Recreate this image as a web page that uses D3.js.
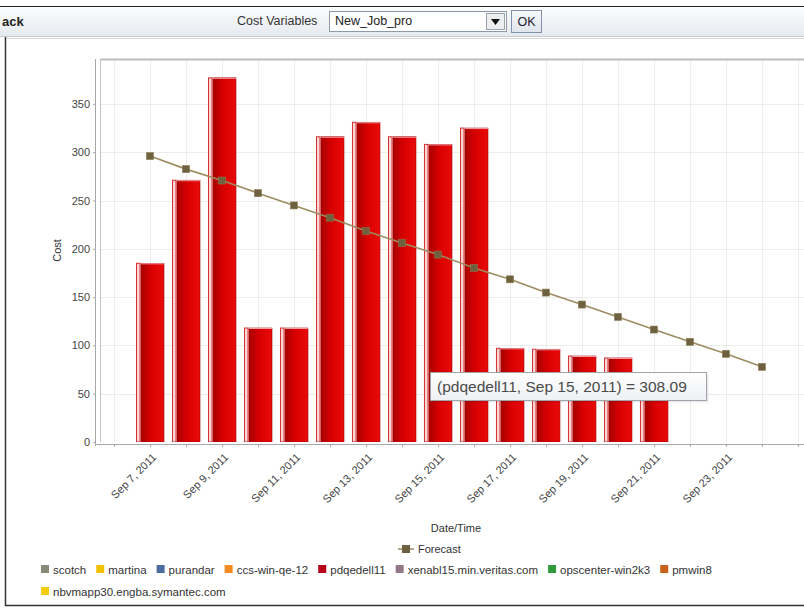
<!DOCTYPE html>
<html>
<head>
<meta charset="utf-8">
<script src="https://cdn.jsdelivr.net/npm/d3@7"></script>
<style>
  html, body { margin: 0; padding: 0; background: #ffffff; }
  svg { display: block; }
  text { font-family: "Liberation Sans", Arial, sans-serif; }
</style>
</head>
<body>
<svg id="chart" width="804" height="608"></svg>
<script>
// ---------- data ----------
const barDates = ["2011-09-07","2011-09-08","2011-09-09","2011-09-10","2011-09-11","2011-09-12","2011-09-13","2011-09-14","2011-09-15","2011-09-16","2011-09-17","2011-09-18","2011-09-19","2011-09-20","2011-09-21"];
const barCosts = [185, 271, 377, 118, 118, 316, 331, 316, 308.09, 325, 97, 96, 89, 87, 60];
const forecastDates = ["2011-09-07","2011-09-08","2011-09-09","2011-09-10","2011-09-11","2011-09-12","2011-09-13","2011-09-14","2011-09-15","2011-09-16","2011-09-17","2011-09-18","2011-09-19","2011-09-20","2011-09-21","2011-09-22","2011-09-23","2011-09-24"];
const forecastValues = [296, 282.5, 270.7, 257.6, 244.9, 232.2, 218.4, 206, 194, 180.2, 168.4, 154.7, 142.3, 129.5, 116.4, 103.7, 91.3, 77.8];
const yTicks = [0, 50, 100, 150, 200, 250, 300, 350];
const xLabelDates = ["2011-09-07","2011-09-09","2011-09-11","2011-09-13","2011-09-15","2011-09-17","2011-09-19","2011-09-21","2011-09-23"];
const xTickLabels = ["Sep 7, 2011","Sep 9, 2011","Sep 11, 2011","Sep 13, 2011","Sep 15, 2011","Sep 17, 2011","Sep 19, 2011","Sep 21, 2011","Sep 23, 2011"];
const legendNames = ["scotch","martina","purandar","ccs-win-qe-12","pdqedell11","xenabl15.min.veritas.com","opscenter-win2k3","pmwin8","nbvmapp30.engba.symantec.com"];
const legendColors = ["#8a8a78","#f2c200","#4b6c9e","#f38a22","#b80018","#94788a","#2e9a3e","#c8621a","#f6cc10"];
const tooltipText = "(pdqedell11, Sep 15, 2011) = 308.09";

// ---------- setup ----------
const parse = d3.timeParse("%Y-%m-%d");
const DAY = 864e5;
const svg = d3.select("#chart");
const defs = svg.append("defs");

// header bar
const hg = defs.append("linearGradient").attr("id","hdr").attr("x1",0).attr("y1",0).attr("x2",0).attr("y2",1);
hg.append("stop").attr("offset","0%").attr("stop-color","#fbfcfd");
hg.append("stop").attr("offset","100%").attr("stop-color","#e6eaef");
svg.append("rect").attr("x",0).attr("y",0).attr("width",804).attr("height",6).attr("fill","#ffffff");
svg.append("rect").attr("x",0).attr("y",7).attr("width",804).attr("height",29).attr("fill","url(#hdr)");
svg.append("line").attr("x1",0).attr("x2",804).attr("y1",6.5).attr("y2",6.5).attr("stroke","#222").attr("stroke-width",1.2);
svg.append("line").attr("x1",0).attr("x2",804).attr("y1",36.5).attr("y2",36.5).attr("stroke","#c8cbd0");
svg.append("text").attr("x",2).attr("y",26).attr("font-size",13).attr("font-weight","bold").attr("fill","#222").text("ack");
svg.append("text").attr("x",237).attr("y",25).attr("font-size",12.5).attr("fill","#333").text("Cost Variables");
svg.append("rect").attr("x",329.5).attr("y",11.5).attr("width",177).attr("height",20).attr("fill","#fff").attr("stroke","#8e9aa8");
svg.append("text").attr("x",335).attr("y",25).attr("font-size",12.5).attr("fill","#222").text("New_Job_pro");
svg.append("rect").attr("x",486.5).attr("y",13.5).attr("width",18).attr("height",16).attr("fill","#eceef0").attr("stroke","#9aa3ad");
svg.append("path").attr("d","M491,19 L500,19 L495.5,25 Z").attr("fill","#111");
const bg = defs.append("linearGradient").attr("id","okb").attr("x1",0).attr("y1",0).attr("x2",0).attr("y2",1);
bg.append("stop").attr("offset","0%").attr("stop-color","#f7f9fb");
bg.append("stop").attr("offset","100%").attr("stop-color","#dfe5ec");
svg.append("rect").attr("x",511.5).attr("y",10.5).attr("width",30).attr("height",22).attr("fill","url(#okb)").attr("stroke","#7f93ad");
svg.append("text").attr("x",526.5).attr("y",26).attr("text-anchor","middle").attr("font-size",12.5).attr("fill","#223").text("OK");

// panel frame
svg.append("line").attr("x1",5.5).attr("x2",5.5).attr("y1",37).attr("y2",606).attr("stroke","#333").attr("stroke-width",1.5);
svg.append("line").attr("x1",5).attr("x2",804).attr("y1",605.5).attr("y2",605.5).attr("stroke","#333").attr("stroke-width",1.5);
svg.append("line").attr("x1",6).attr("x2",804).attr("y1",38.5).attr("y2",38.5).attr("stroke","#d6d6d6");

// ---------- scales ----------
const plot = {left: 100, right: 812, top: 59, bottom: 442};
const x0 = parse("2011-09-07").getTime();
const x = d3.scaleTime()
  .domain([new Date(x0 - 1.389 * DAY), new Date(x0 + 18.39 * DAY)])
  .range([plot.left, plot.right]);
const y = d3.scaleLinear().domain([0, 396.5]).range([plot.bottom, plot.top]);

// plot background + grid
defs.append("clipPath").attr("id","clip").append("rect")
  .attr("x",plot.left).attr("y",plot.top).attr("width",plot.right-plot.left).attr("height",plot.bottom-plot.top);
const g = svg.append("g").attr("clip-path","url(#clip)");
g.append("rect").attr("x",plot.left).attr("y",plot.top).attr("width",plot.right-plot.left).attr("height",plot.bottom-plot.top).attr("fill","#fff");
const dayTicks = d3.timeDay.range(d3.timeDay.ceil(x.domain()[0]), x.domain()[1]);
g.selectAll("line.vg").data(dayTicks).join("line").attr("class","vg")
  .attr("x1",d=>Math.round(x(d))+0.5).attr("x2",d=>Math.round(x(d))+0.5)
  .attr("y1",plot.top).attr("y2",plot.bottom).attr("stroke","#ececec");
g.selectAll("line.hg").data(yTicks).join("line").attr("class","hg")
  .attr("x1",plot.left).attr("x2",plot.right)
  .attr("y1",d=>Math.round(y(d))+0.5).attr("y2",d=>Math.round(y(d))+0.5).attr("stroke","#ececec");

// bars
const rg = defs.append("linearGradient").attr("id","barg").attr("x1",0).attr("y1",0).attr("x2",1).attr("y2",0);
rg.append("stop").attr("offset","0%").attr("stop-color","#a80000");
rg.append("stop").attr("offset","45%").attr("stop-color","#d80000");
rg.append("stop").attr("offset","100%").attr("stop-color","#ea0a0a");
const bars = barDates.map((d,i)=>({date: parse(d), v: barCosts[i]}));
g.selectAll("rect.stripe").data(bars).join("rect").attr("class","stripe")
  .attr("x",d=>x(d.date)-13.5).attr("width",3.5)
  .attr("y",d=>y(d.v)).attr("height",d=>y(0)-y(d.v))
  .attr("fill","#fbd6d6").attr("stroke","#d83030").attr("stroke-width",1);
g.selectAll("rect.bar").data(bars).join("rect").attr("class","bar")
  .attr("x",d=>x(d.date)-9).attr("width",23)
  .attr("y",d=>y(d.v)).attr("height",d=>y(0)-y(d.v))
  .attr("fill","url(#barg)").attr("stroke","#a00000").attr("stroke-width",0.6);
g.selectAll("line.cap").data(bars).join("line").attr("class","cap")
  .attr("x1",d=>x(d.date)-9).attr("x2",d=>x(d.date)+14)
  .attr("y1",d=>y(d.v)+0.5).attr("y2",d=>y(d.v)+0.5)
  .attr("stroke","#f0a0a8").attr("stroke-width",1);

// forecast
const fc = forecastDates.map((d,i)=>({date: parse(d), v: forecastValues[i]}));
g.append("path").datum(fc)
  .attr("d", d3.line().x(d=>x(d.date)).y(d=>y(d.v)))
  .attr("fill","none").attr("stroke","#9c8c60").attr("stroke-width",1.6);
g.selectAll("rect.mk").data(fc).join("rect").attr("class","mk")
  .attr("x",d=>x(d.date)-3.5).attr("y",d=>y(d.v)-3.5).attr("width",7).attr("height",7)
  .attr("fill","#6f6140").attr("stroke","#8a7a50").attr("stroke-width",0.6);

// plot borders
svg.append("line").attr("x1",plot.left).attr("x2",804).attr("y1",plot.top+0.5).attr("y2",plot.top+0.5).attr("stroke","#bdbdbd").attr("stroke-width",2);
svg.append("line").attr("x1",plot.left+0.5).attr("x2",plot.left+0.5).attr("y1",plot.top).attr("y2",plot.bottom).attr("stroke","#c4c4c4");

// y axis
const yAxis = d3.axisLeft(y).tickValues(yTicks).tickSize(3).tickPadding(3).tickFormat(d3.format("d"));
const ya = svg.append("g").attr("transform",`translate(${plot.left-4},0)`).call(yAxis);
ya.select(".domain").attr("stroke","#a8a8a8").attr("d",`M-0.5,${plot.top}V${plot.bottom+4}`);
ya.selectAll(".tick line").attr("stroke","#a8a8a8");
ya.selectAll(".tick text").attr("font-size",11).attr("fill","#444").attr("font-family","Liberation Sans, Arial, sans-serif");
svg.append("text").attr("transform",`translate(61,${(plot.top+plot.bottom)/2}) rotate(-90)`)
  .attr("text-anchor","middle").attr("font-size",11).attr("fill","#333").text("Cost");

// x axis
const xAxis = d3.axisBottom(x).tickValues(dayTicks).tickSize(3).tickFormat("");
const xa = svg.append("g").attr("transform",`translate(0,${plot.bottom+2})`).call(xAxis);
xa.select(".domain").attr("stroke","#a8a8a8").attr("d",`M${plot.left-4},0.5H804`);
xa.selectAll(".tick line").attr("stroke","#a8a8a8");
svg.selectAll("text.xl").data(xLabelDates).join("text").attr("class","xl")
  .attr("transform",(d)=>`translate(${x(parse(d))+7},${plot.bottom+16}) rotate(-45)`)
  .attr("text-anchor","end").attr("font-size",11).attr("fill","#444")
  .text((d,i)=>xTickLabels[i]);
svg.append("text").attr("x",456).attr("y",532).attr("text-anchor","middle").attr("font-size",11).attr("fill","#333").text("Date/Time");

// tooltip
const tg = defs.append("linearGradient").attr("id","tip").attr("x1",0).attr("y1",0).attr("x2",0).attr("y2",1);
tg.append("stop").attr("offset","0%").attr("stop-color","#ffffff");
tg.append("stop").attr("offset","100%").attr("stop-color","#eef0f3");
svg.append("rect").attr("x",432.5).attr("y",374.5).attr("width",276).attr("height",28).attr("fill","#000").attr("opacity",0.08);
svg.append("rect").attr("x",430.5).attr("y",372.5).attr("width",276).attr("height",28).attr("fill","url(#tip)").attr("stroke","#9da4ac");
svg.append("text").attr("x",437).attr("y",392).attr("font-size",15.5).attr("fill","#4a4a4a").text(tooltipText);

// legend: forecast
svg.append("line").attr("x1",398).attr("x2",414).attr("y1",549).attr("y2",549).attr("stroke","#9c8c60").attr("stroke-width",1.5);
svg.append("rect").attr("x",402).attr("y",545).attr("width",8).attr("height",8).attr("fill","#6f6140");
svg.append("text").attr("x",418).attr("y",553).attr("font-size",11).attr("fill","#333").text("Forecast");

// legend: series (wrapping)
let lx = 41, ly = 573;
legendNames.forEach((name,i)=>{
  const t = svg.append("text").attr("font-size",11.5).attr("fill","#333").text(name);
  const tw = t.node().getComputedTextLength();
  if (lx + 12 + tw > 760) { lx = 41; ly += 22; }
  svg.append("rect").attr("x",lx).attr("y",ly-8).attr("width",8).attr("height",8).attr("fill",legendColors[i]);
  t.attr("x",lx+12).attr("y",ly+1);
  lx += 12 + tw + 10;
});
</script>
</body>
</html>
